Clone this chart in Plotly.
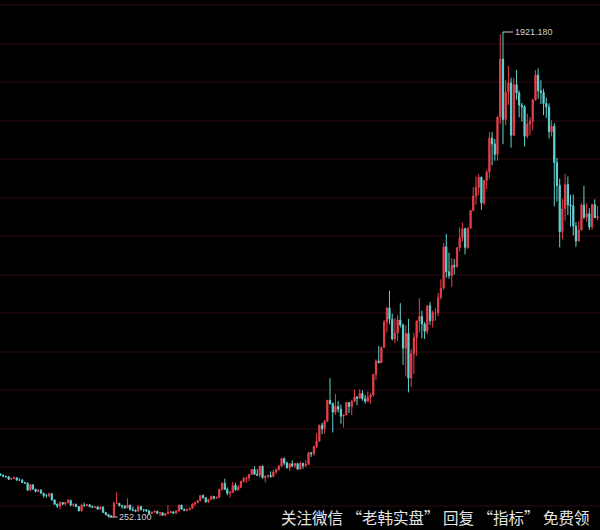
import plotly.graph_objects as go

# Monthly gold OHLC, Mar 1996 .. Aug 2014
start_year, start_month = 1996, 3

opens = [
    400, 396, 392, 391, 382, 385, 387, 379, 379, 371,  # 1996
    369, 345, 363, 348, 340, 345, 334, 326, 325, 332, 311, 296,  # 1997
    290, 302, 297, 301, 310, 293, 296, 288, 273, 293, 292, 294,  # 1998
    288, 285, 287, 279, 286, 268, 261, 255, 255, 299, 299, 292,  # 1999
    290, 283, 293, 277, 275, 272, 288, 277, 277, 273, 264, 269,  # 2000
    272, 265, 267, 258, 264, 267, 270, 265, 273, 293, 279, 275,  # 2001
    277, 282, 297, 302, 308, 326, 318, 304, 312, 323, 317, 319,  # 2002
    347, 368, 347, 334, 336, 361, 346, 354, 375, 384, 386, 398,  # 2003
    416, 399, 396, 427, 388, 393, 395, 391, 407, 415, 428, 453,  # 2004
    438, 422, 435, 428, 436, 417, 437, 429, 433, 473, 470, 495,  # 2005
    513, 568, 556, 582, 654, 643, 613, 633, 623, 599, 603, 646,  # 2006
    632, 650, 665, 661, 677, 659, 650, 665, 672, 743, 789, 783,  # 2007
    836, 923, 971, 933, 865, 885, 930, 913, 833, 884, 730, 814,  # 2008
    869, 927, 942, 916, 891, 979, 927, 955, 955, 1007, 1040, 1182,  # 2009
    1096, 1083, 1118, 1113, 1179, 1213, 1244, 1180, 1246, 1307, 1357, 1386,  # 2010
    1421, 1333, 1410, 1439, 1556, 1536, 1500, 1628, 1828, 1620, 1715, 1746,  # 2011
    1566, 1740, 1711, 1669, 1664, 1562, 1604, 1614, 1687, 1773, 1719, 1713,  # 2012
    1675, 1663, 1578, 1597, 1472, 1393, 1234, 1313, 1396, 1327, 1323, 1253,  # 2013
    1202, 1240, 1326, 1284, 1296, 1250, 1327, 1282,  # 2014
]
highs = [
    402, 398, 394, 392, 387, 391, 389, 385, 383, 373,
    370, 366, 364, 348, 348, 347, 335, 331, 336, 334, 313, 298,
    306, 304, 302, 314, 310, 299, 298, 289, 298, 302, 298, 297,
    292, 290, 288, 290, 289, 269, 262, 258, 305, 338, 301, 293,
    292, 316, 294, 288, 278, 292, 291, 280, 278, 276, 270, 275,
    273, 270, 268, 266, 293, 274, 271, 276, 294, 294, 281, 281,
    284, 299, 304, 310, 328, 330, 321, 315, 326, 325, 323, 350,
    372, 384, 354, 342, 373, 370, 362, 377, 390, 391, 400, 418,
    427, 417, 427, 430, 395, 398, 409, 415, 419, 430, 456, 457,
    443, 438, 447, 438, 437, 443, 439, 448, 476, 476, 497, 541,
    570, 576, 586, 654, 730, 646, 675, 651, 639, 605, 649, 647,
    656, 690, 668, 692, 688, 672, 684, 678, 745, 795, 841, 838,
    930, 975, 1030, 952, 936, 947, 988, 918, 912, 934, 830, 886,
    927, 1005, 962, 923, 981, 992, 962, 970, 1023, 1070, 1195, 1227,
    1162, 1143, 1140, 1180, 1249, 1265, 1248, 1249, 1307, 1387, 1424, 1432,
    1424, 1412, 1447, 1576, 1577, 1553, 1632, 1913, 1921.18, 1755, 1804, 1764,
    1764, 1791, 1720, 1677, 1669, 1640, 1628, 1692, 1790, 1796, 1755, 1726,
    1695, 1676, 1617, 1607, 1488, 1417, 1348, 1433, 1424, 1361, 1362, 1267,
    1270, 1332, 1392, 1331, 1315, 1330, 1345, 1322,
]
lows = [
    394, 389, 388, 380, 380, 384, 378, 377, 370, 367,
    341, 341, 347, 337, 338, 333, 318, 319, 320, 308, 294, 283,
    278, 293, 292, 300, 289, 287, 286, 272, 272, 287, 291, 285,
    284, 283, 278, 278, 266, 257, 252.1, 253, 254, 296, 288, 280,
    280, 283, 276, 272, 270, 271, 275, 269, 270, 263, 263, 266,
    262, 255, 256, 255, 263, 266, 264, 264, 270, 278, 272, 271,
    277, 281, 289, 299, 308, 316, 302, 301, 312, 312, 316, 318,
    343, 346, 327, 319, 336, 342, 341, 351, 370, 369, 375, 397,
    399, 393, 389, 384, 371, 385, 388, 389, 400, 412, 423, 430,
    418, 410, 424, 421, 414, 414, 418, 425, 432, 459, 463, 489,
    513, 537, 538, 580, 638, 543, 604, 612, 573, 560, 603, 610,
    603, 648, 637, 661, 652, 642, 648, 642, 667, 724, 781, 782,
    834, 887, 915, 860, 850, 857, 904, 775, 737, 681, 700, 744,
    807, 887, 867, 865, 881, 913, 904, 928, 943, 1000, 1034, 1075,
    1072, 1044, 1086, 1111, 1166, 1200, 1156, 1175, 1243, 1305, 1327, 1359,
    1309, 1326, 1380, 1417, 1462, 1478, 1478, 1605, 1535, 1600, 1670, 1523,
    1563, 1688, 1627, 1613, 1527, 1555, 1565, 1583, 1686, 1691, 1673, 1635,
    1626, 1555, 1562, 1321, 1338, 1180, 1208, 1272, 1292, 1251, 1221, 1182,
    1200, 1238, 1277, 1268, 1240, 1241, 1281, 1274,
]
closes = [
    396, 392, 391, 382, 385, 387, 379, 379, 371, 369,
    345, 363, 348, 340, 345, 334, 326, 325, 332, 311, 296, 290,
    302, 297, 301, 310, 293, 296, 288, 273, 293, 292, 294, 288,
    285, 287, 279, 286, 268, 261, 255, 255, 299, 299, 292, 290,
    283, 293, 277, 275, 272, 288, 277, 277, 273, 264, 269, 272,
    265, 267, 258, 264, 267, 270, 265, 273, 293, 279, 275, 277,
    282, 297, 302, 308, 326, 318, 304, 312, 323, 317, 319, 347,
    368, 347, 334, 336, 361, 346, 354, 375, 384, 386, 398, 416,
    399, 396, 427, 388, 393, 395, 391, 407, 415, 428, 453, 438,
    422, 435, 428, 436, 417, 437, 429, 433, 473, 470, 495, 513,
    568, 556, 582, 654, 643, 613, 633, 623, 599, 603, 646, 632,
    650, 665, 661, 677, 659, 650, 665, 672, 743, 789, 783, 836,
    923, 971, 933, 865, 885, 930, 913, 833, 884, 730, 814, 869,
    927, 942, 916, 891, 979, 927, 955, 955, 1007, 1040, 1182, 1096,
    1083, 1118, 1113, 1179, 1213, 1244, 1180, 1246, 1307, 1357, 1386, 1421,
    1333, 1410, 1439, 1556, 1536, 1500, 1628, 1828, 1620, 1715, 1746, 1566,
    1740, 1711, 1669, 1664, 1562, 1604, 1614, 1687, 1773, 1719, 1713, 1675,
    1663, 1578, 1597, 1472, 1393, 1234, 1313, 1396, 1327, 1323, 1253, 1202,
    1240, 1326, 1284, 1296, 1250, 1327, 1282, 1287,
]

high_label = "1921.180"
low_label = "252.100"
watermark = "关注微信 “老韩实盘” 回复 “指标” 免费领"

dates = []
y, m = start_year, start_month
for _ in closes:
    dates.append(f"{y}-{m:02d}-15")
    m += 1
    if m > 12:
        m = 1
        y += 1

i_hi = highs.index(max(highs))
i_lo = lows.index(min(lows))

fig = go.Figure(go.Candlestick(
    x=dates, open=opens, high=highs, low=lows, close=closes,
    increasing=dict(line=dict(color="#e8404c", width=1), fillcolor="#e8404c"),
    decreasing=dict(line=dict(color="#62d4d4", width=1), fillcolor="#62d4d4"),
    whiskerwidth=0,
    hoverinfo="skip",
))

fig.add_annotation(x=dates[i_hi], y=highs[i_hi], ax=10, ay=0, showarrow=True,
                   arrowhead=0, arrowwidth=1, arrowcolor="#d0d0d0",
                   text=high_label, xanchor="left",
                   font=dict(family="Arial, Liberation Sans", size=9, color="#d0d0d0"))
fig.add_annotation(x=dates[i_lo], y=lows[i_lo], ax=9, ay=0, showarrow=True,
                   arrowhead=0, arrowwidth=1, arrowcolor="#d0d0d0",
                   text=low_label, xanchor="left",
                   font=dict(family="Arial, Liberation Sans", size=9, color="#d0d0d0"))
fig.add_annotation(xref="paper", yref="paper", x=0.985, y=0.0245,
                   xanchor="right", yanchor="middle", showarrow=False,
                   text=watermark,
                   font=dict(family="Noto Sans CJK SC", size=15.5, color="#e4e4e4"))

fig.update_layout(
    width=600, height=530,
    margin=dict(l=0, r=0, t=0, b=0),
    paper_bgcolor="#000000", plot_bgcolor="#000000",
    showlegend=False,
    xaxis=dict(type="date", range=["1996-03-10", "2014-09-12"],
               rangeslider=dict(visible=False), showgrid=False,
               showticklabels=False, zeroline=False, ticks=""),
    yaxis=dict(range=[207.4, 2031.3], tick0=2014, dtick=132.5,
               showgrid=True, gridcolor="#170609", gridwidth=1.5,
               showticklabels=False, zeroline=False, ticks=""),
)

fig.write_html(
    "out.html",
    config={"displayModeBar": False},
    post_script="document.body.style.margin='0';document.body.style.background='#000';",
)
